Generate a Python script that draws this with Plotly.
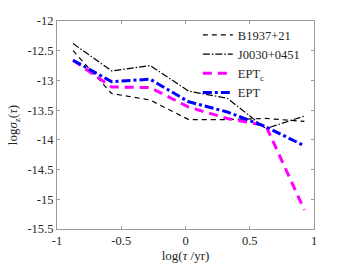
import plotly.graph_objects as go

x_vals = [-0.875, -0.575, -0.275, 0.025, 0.325, 0.625, 0.925]
b1937 = [-12.50, -13.22, -13.33, -13.66, -13.66, -13.64, -13.69]
j0030 = [-12.38, -12.84, -12.75, -13.18, -13.30, -13.81, -13.60]
ept_c = [-12.66, -13.11, -13.12, -13.45, -13.64, -13.76, -15.18]
ept = [-12.66, -13.02, -12.98, -13.36, -13.53, -13.78, -14.10]

x_ticks = [-1, -0.5, 0, 0.5, 1]
x_ticklabels = ["-1", "-0.5", "0", "0.5", "1"]
y_ticks = [-15.5, -15, -14.5, -14, -13.5, -13, -12.5, -12]
y_ticklabels = ["-15.5", "-15", "-14.5", "-14", "-13.5", "-13", "-12.5", "-12"]

fig = go.Figure()
fig.add_trace(go.Scatter(x=x_vals, y=b1937, mode="lines", name="B1937+21",
                         line=dict(color="black", width=1.2, dash="5px,4px")))
fig.add_trace(go.Scatter(x=x_vals, y=j0030, mode="lines", name="J0030+0451",
                         line=dict(color="black", width=1.2, dash="7px,2px,1.5px,2px")))
fig.add_trace(go.Scatter(x=x_vals, y=ept_c, mode="lines", name="EPT<sub>c</sub>",
                         line=dict(color="#ff00ff", width=3, dash="9px,6px")))
fig.add_trace(go.Scatter(x=x_vals, y=ept, mode="lines", name="EPT",
                         line=dict(color="#0000ff", width=3, dash="9px,3px,3px,3px")))

axis_common = dict(showline=True, linecolor="#9a9a9a", linewidth=1, mirror="ticks",
                   ticks="inside", ticklen=3, tickcolor="#9a9a9a", showgrid=False,
                   zeroline=False, automargin=False,
                   tickfont=dict(family="Liberation Serif", size=12.5, color="#262626"))

fig.update_layout(
    width=347, height=266,
    margin=dict(l=57, r=33, t=21, b=37),
    paper_bgcolor="white", plot_bgcolor="white",
    font=dict(family="Liberation Serif", size=12.5, color="#262626"),
    xaxis=dict(range=[-1, 1], tickvals=x_ticks, ticktext=x_ticklabels,
               title=dict(text="log(<i>τ</i> /yr)", standoff=3, font=dict(size=13)), **axis_common),
    yaxis=dict(range=[-15.5, -12], tickvals=y_ticks, ticktext=y_ticklabels,
               title=dict(text="log<i>σ</i><sub>z</sub>(<i>τ</i>)", standoff=6, font=dict(size=13)), **axis_common),
    legend=dict(x=0.548, y=1.004, xanchor="left", yanchor="top", bgcolor="rgba(0,0,0,0)",
                font=dict(size=12.5, color="#262626"), tracegroupgap=0, itemwidth=30),
    showlegend=True,
)

fig.write_html("out.html", config={"displayModeBar": False},
               post_script="document.body.style.margin='0';")
